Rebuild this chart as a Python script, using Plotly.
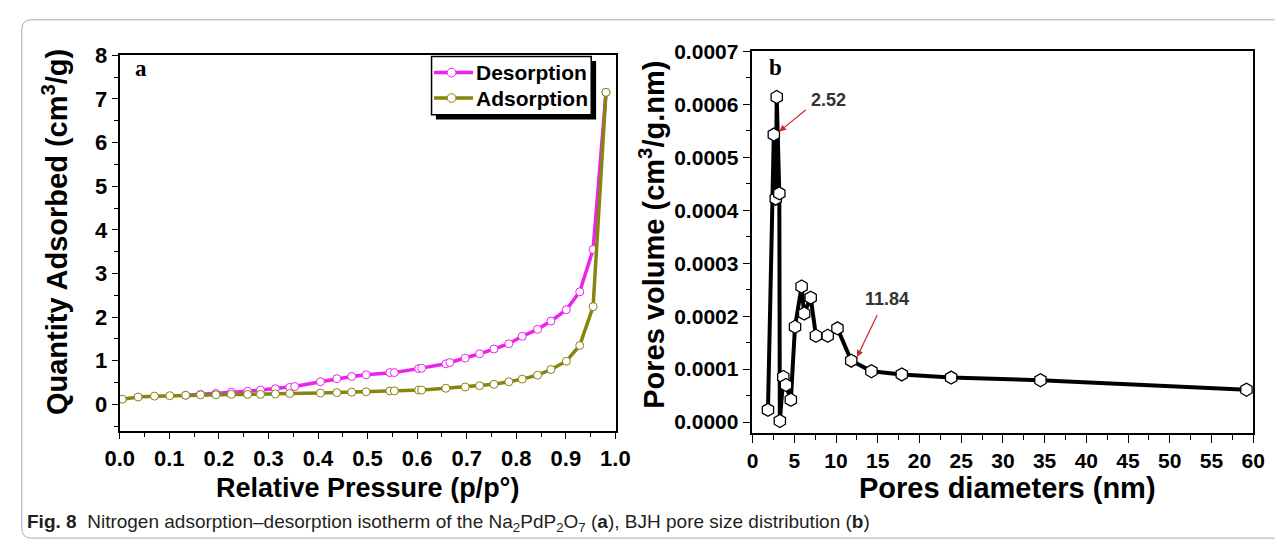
import plotly.graph_objects as go

W, H = 1285, 541

# ---------------- Panel (a): N2 isotherm ----------------
p_adsorption = [0.005, 0.037, 0.070, 0.101, 0.133, 0.163, 0.194, 0.225, 0.258, 0.284,
                0.314, 0.343, 0.405, 0.438, 0.468, 0.497, 0.545, 0.554, 0.603, 0.609,
                0.658, 0.697, 0.726, 0.755, 0.785, 0.812, 0.843, 0.870, 0.901, 0.928,
                0.955, 0.981]
q_adsorption = [0.12, 0.17, 0.19, 0.20, 0.21, 0.22, 0.22, 0.23, 0.23, 0.23,
                0.24, 0.25, 0.26, 0.27, 0.28, 0.29, 0.31, 0.31, 0.33, 0.33,
                0.37, 0.40, 0.43, 0.46, 0.52, 0.58, 0.67, 0.80, 0.99, 1.35,
                2.24, 7.15]

p_desorption = [0.133, 0.163, 0.194, 0.225, 0.258, 0.284, 0.314, 0.343, 0.353, 0.405,
                0.438, 0.468, 0.497, 0.545, 0.554, 0.603, 0.609, 0.658, 0.666, 0.697,
                0.726, 0.755, 0.785, 0.812, 0.843, 0.870, 0.901, 0.928, 0.955, 0.981]
q_desorption = [0.21, 0.23, 0.25, 0.28, 0.30, 0.33, 0.36, 0.39, 0.41, 0.52,
                0.59, 0.64, 0.68, 0.73, 0.73, 0.82, 0.83, 0.93, 0.96, 1.06,
                1.16, 1.27, 1.39, 1.56, 1.72, 1.91, 2.17, 2.58, 3.55, 7.15]

series_names = ["Desorption", "Adsorption"]

# ---------------- Panel (b): BJH pore size distribution ----------------
pore_diameter = [1.84, 2.54, 2.77, 2.89, 3.20, 3.26, 3.68, 4.00, 4.58, 5.08,
                 5.87, 6.18, 6.96, 7.59, 9.00, 10.17, 11.82, 14.24, 17.88, 23.8,
                 34.5, 59.2]
pore_volume = [0.000023, 0.000543, 0.000422, 0.000614, 0.000432, 0.000002, 0.000085,
               0.000070, 0.000042, 0.000180, 0.000256, 0.000205, 0.000235, 0.000163,
               0.000163, 0.000177, 0.000116, 0.000096, 0.000090, 0.000084, 0.000079,
               0.000061]

peak_labels = ["2.52", "11.84"]

MAG = "#EE22EE"
OLV = "#85850F"
FONT = "Liberation Sans, Arial, sans-serif"


def px(x):
    return x / W


def py(y):
    return 1 - y / H


fig = go.Figure()

fig.add_trace(go.Scatter(
    x=p_desorption, y=q_desorption, name=series_names[0], mode="lines+markers",
    line=dict(color=MAG, width=3.5),
    marker=dict(symbol="circle", size=8, color="white", line=dict(color=MAG, width=1)),
    xaxis="x", yaxis="y"))
fig.add_trace(go.Scatter(
    x=p_adsorption, y=q_adsorption, name=series_names[1], mode="lines+markers",
    line=dict(color=OLV, width=3.5),
    marker=dict(symbol="circle", size=8, color="white", line=dict(color=OLV, width=1)),
    xaxis="x", yaxis="y"))

fig.add_trace(go.Scatter(
    x=pore_diameter, y=pore_volume, mode="lines+markers", showlegend=False,
    line=dict(color="black", width=4),
    marker=dict(symbol="hexagon", size=13, color="white", line=dict(color="black", width=1.3)),
    xaxis="x2", yaxis="y2"))

axis_common = dict(showline=True, mirror=True, linecolor="black", linewidth=1.5,
                   showgrid=False, zeroline=False, ticks="outside", tickcolor="black")

fig.update_layout(
    width=W, height=H,
    margin=dict(l=0, r=0, t=0, b=0),
    paper_bgcolor="white", plot_bgcolor="white",
    showlegend=False,
    xaxis=dict(domain=[px(107), px(615)], range=[-0.0005, 1.0005], dtick=0.1, tick0=0,
               tickformat=".1f", ticklen=6, tickwidth=1.2,
               tickfont=dict(family=FONT, size=22, color="black", weight="bold"),
               minor=dict(ticks="outside", ticklen=4, dtick=0.05, tickcolor="black"),
               anchor="y", **axis_common),
    yaxis=dict(domain=[py(429), py(44)], range=[-0.62, 8.005], dtick=1, tick0=0,
               ticklen=6, tickwidth=1.2,
               tickfont=dict(family=FONT, size=22, color="black", weight="bold"),
               minor=dict(ticks="outside", ticklen=4, dtick=0.5, tickcolor="black"),
               anchor="x", **axis_common),
    xaxis2=dict(domain=[px(755), px(1268)], range=[-0.03, 60.03], dtick=5, tick0=0,
                ticklen=8, tickwidth=1.2,
                tickfont=dict(family=FONT, size=21, color="black", weight="bold"),
                minor=dict(ticks="outside", ticklen=5, dtick=2.5, tickcolor="black"),
                anchor="y2", **axis_common),
    yaxis2=dict(domain=[py(430.7), py(40.2)], range=[-0.000021, 0.0007004], dtick=0.0001,
                tick0=0, tickformat=".4f", ticklen=8, tickwidth=1.2,
                tickfont=dict(family=FONT, size=21, color="black", weight="bold"),
                minor=dict(ticks="outside", ticklen=5, dtick=0.00005, tickcolor="black"),
                anchor="x2", **axis_common),
)

shapes = []
# figure frame with rounded corners
frame_path = (f"M {px(1290)},{py(8)} L {px(17)},{py(8)} Q {px(7)},{py(8)} {px(7)},{py(18)} "
              f"L {px(7)},{py(528)} Q {px(7)},{py(538)} {px(17)},{py(538)} L {px(1290)},{py(538)}")
shapes.append(dict(type="path", xref="paper", yref="paper", path=frame_path,
                   line=dict(color="#a8a8a8", width=1)))
# legend: shadow, box, sample lines and markers
shapes.append(dict(type="rect", xref="paper", yref="paper",
                   x0=px(431), x1=px(595), y0=py(110), y1=py(50),
                   fillcolor="black", line=dict(width=0), layer="above"))
shapes.append(dict(type="rect", xref="paper", yref="paper",
                   x0=px(426.5), x1=px(590), y0=py(105), y1=py(45.5),
                   fillcolor="white", line=dict(color="black", width=1.5), layer="above"))
for row_y, col in [(62, MAG), (88, OLV)]:
    shapes.append(dict(type="line", xref="paper", yref="paper",
                       x0=px(429), x1=px(469), y0=py(row_y), y1=py(row_y),
                       line=dict(color=col, width=3.5), layer="above"))
    shapes.append(dict(type="circle", xref="paper", yref="paper",
                       x0=px(442.5), x1=px(451.5), y0=py(row_y + 4.5), y1=py(row_y - 4.5),
                       fillcolor="white", line=dict(color=col, width=1), layer="above"))
fig.update_layout(shapes=shapes)

ann = []
title_font = dict(family=FONT, color="black", weight="bold")
for row_y, name in [(62, series_names[0]), (88, series_names[1])]:
    ann.append(dict(xref="paper", yref="paper", x=px(470), y=py(row_y), text=name,
                    showarrow=False, xanchor="left", yanchor="middle",
                    font=dict(size=21, **title_font)))
ann.append(dict(xref="paper", yref="paper", x=px(361), y=py(487), text="Relative Pressure (p/p°)",
                showarrow=False, font=dict(size=27, **title_font), xanchor="center", yanchor="middle"))
ann.append(dict(xref="paper", yref="paper", x=px(1016), y=py(487), text="Pores diameters (nm)",
                showarrow=False, font=dict(size=29, **title_font), xanchor="center", yanchor="middle"))
ann.append(dict(xref="paper", yref="paper", x=px(41), y=py(225),
                text="Quantity Adsorbed (cm<sup>3</sup>/g)", textangle=-90,
                showarrow=False, font=dict(size=29, **title_font), xanchor="center", yanchor="middle"))
ann.append(dict(xref="paper", yref="paper", x=px(652), y=py(228),
                text="Pores volume (cm<sup>3</sup>/g.nm)", textangle=-90,
                showarrow=False, font=dict(size=29, **title_font), xanchor="center", yanchor="middle"))
# panel labels
ann.append(dict(xref="paper", yref="paper", x=px(129), y=py(58), text="<b>a</b>", showarrow=False,
                font=dict(family="Liberation Serif, Times New Roman, serif", size=23, color="black"),
                xanchor="center", yanchor="middle"))
ann.append(dict(xref="paper", yref="paper", x=px(779), y=py(57), text="<b>b</b>", showarrow=False,
                font=dict(family="Liberation Serif, Times New Roman, serif", size=23, color="black"),
                xanchor="center", yanchor="middle"))
# arrows (panel b)
ann.append(dict(xref="x2", yref="y2", axref="x2", ayref="y2", x=3.2, y=0.000549, ax=6.54, ay=0.000592,
                text="", showarrow=True, arrowhead=2, arrowsize=1.1, arrowwidth=1.2, arrowcolor="#cc2a2a"))
ann.append(dict(xref="x2", yref="y2", axref="x2", ayref="y2", x=12.52, y=0.000123, ax=15.02, ay=0.000205,
                text="", showarrow=True, arrowhead=2, arrowsize=1.1, arrowwidth=1.2, arrowcolor="#cc2a2a"))
ann.append(dict(xref="x2", yref="y2", x=9.04, y=0.000608, text=peak_labels[0], showarrow=False,
                font=dict(family=FONT, size=18, color="#333333", weight="bold"),
                xanchor="center", yanchor="middle"))
ann.append(dict(xref="x2", yref="y2", x=16.1, y=0.000232, text=peak_labels[1], showarrow=False,
                font=dict(family=FONT, size=18, color="#333333", weight="bold"),
                xanchor="center", yanchor="middle"))
# caption
ann.append(dict(xref="paper", yref="paper", x=px(10), y=py(523), xanchor="left", yanchor="middle",
                showarrow=False, align="left",
                text=("<b>Fig. 8</b>  Nitrogen adsorption–desorption isotherm of the "
                      "Na<sub>2</sub>PdP<sub>2</sub>O<sub>7</sub> (<b>a</b>), BJH pore size distribution (<b>b</b>)"),
                font=dict(family=FONT, size=19, color="#231f20")))
fig.update_layout(annotations=ann)

fig.write_html("out.html")
